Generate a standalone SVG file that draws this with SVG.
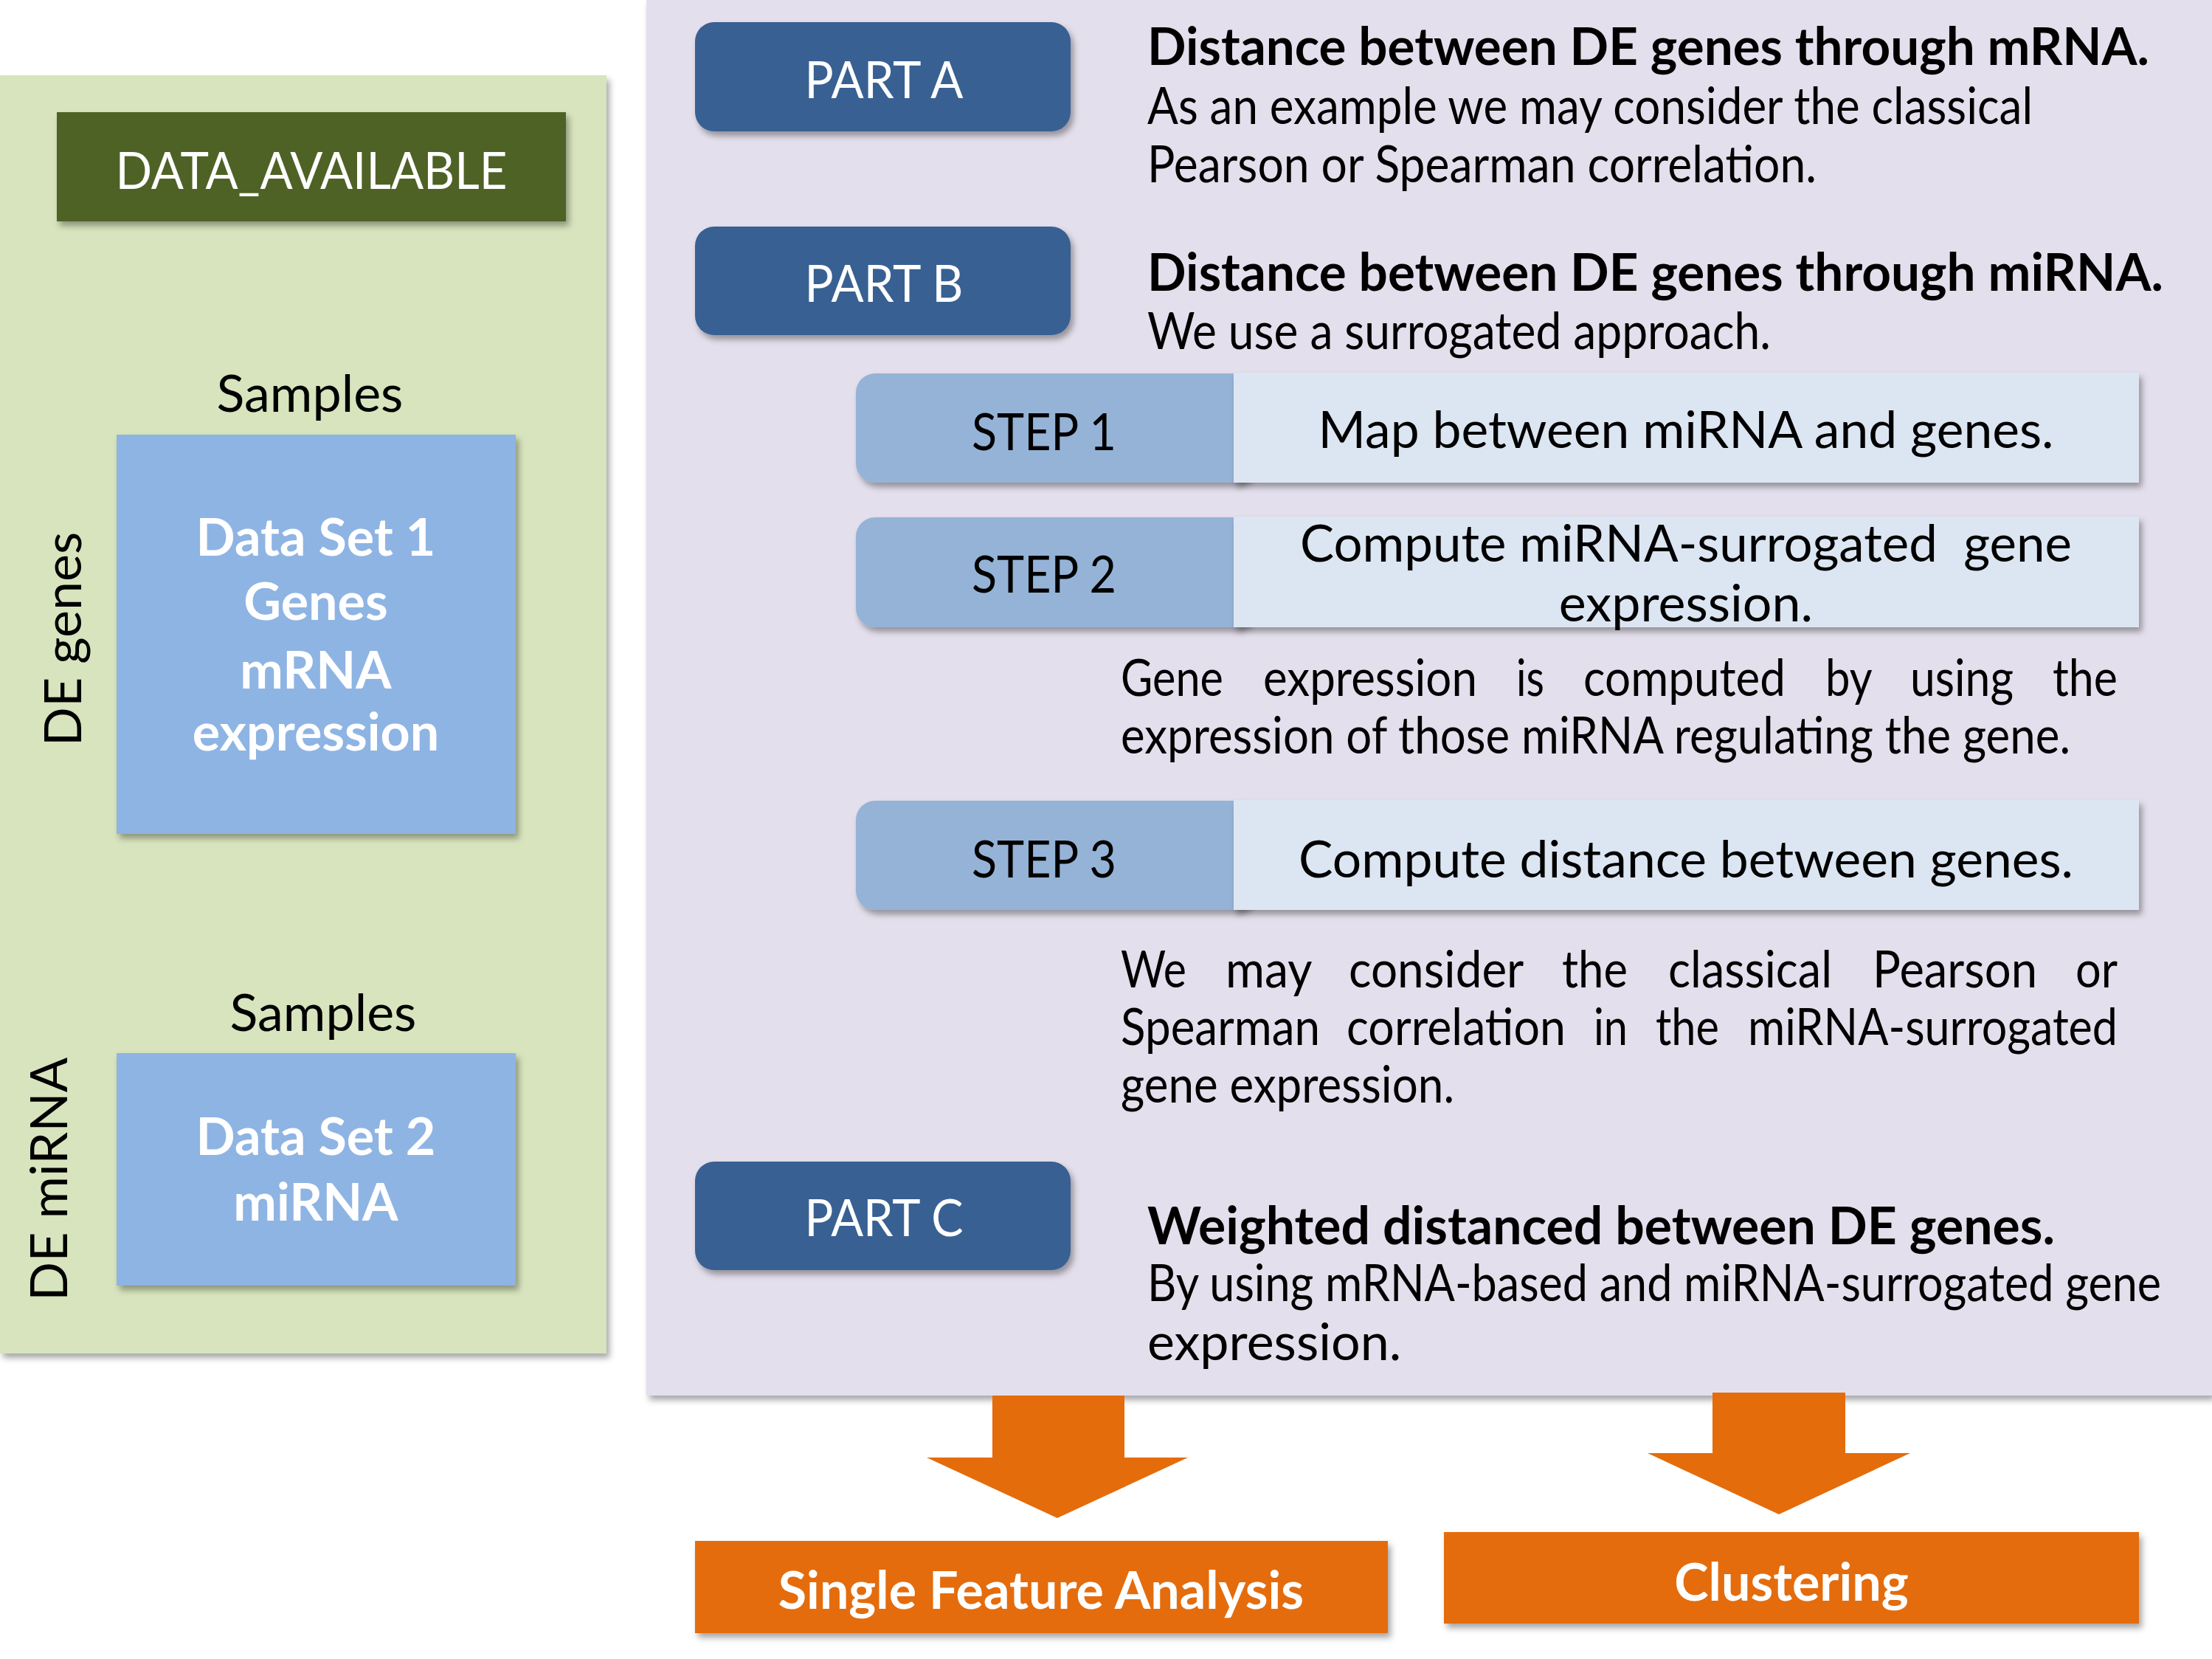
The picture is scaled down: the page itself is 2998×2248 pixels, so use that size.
<svg xmlns="http://www.w3.org/2000/svg" width="2998" height="2248" viewBox="0 0 2998 2248">
<defs>
<filter id="sh" x="-5%" y="-5%" width="115%" height="125%">
<feDropShadow dx="4" dy="6" stdDeviation="4" flood-color="#000" flood-opacity="0.35"/>
</filter>
</defs>
<style>
text{font-family:Lato,"Open Sans","Liberation Sans",sans-serif;font-size:70px;fill:#000}
tspan{lengthAdjust:spacingAndGlyphs}
.w{fill:#fff}
.b{font-weight:bold}
.c{text-anchor:middle}
.part{fill:#376092}
.step{fill:#95B3D7}
.desc{fill:#DCE6F2}
.ds{fill:#8EB4E3}
.org{fill:#E46C0A}
</style>
<rect width="2998" height="2248" fill="#fff"/>
<g id="panel_left">
<rect x="0" y="102" width="822" height="1732" fill="#D7E4BD" filter="url(#sh)"/>
</g>
<g id="panel_right">
<rect x="876" y="0" width="2122" height="1891" fill="#E4DFEC" filter="url(#sh)"/>
</g>
<g id="data_available">
<rect x="77" y="152" width="690" height="148" fill="#4F6228" filter="url(#sh)"/>
<text class="w c" x="422" y="256" textLength="531" lengthAdjust="spacingAndGlyphs">DATA_AVAILABLE</text>
</g>
<g id="samples1"><text class="c" x="420" y="558">Samples</text></g>
<g id="dataset1">
<rect class="ds" x="158" y="589" width="541" height="541" filter="url(#sh)"/>
<text class="w b c" x="428" y="753">Data Set 1</text>
<text class="w b c" x="428" y="840">Genes</text>
<text class="w b c" x="428" y="933">mRNA</text>
<text class="w b c" x="428" y="1017">expression</text>
</g>
<g id="de_genes"><text class="c" transform="translate(110,866) rotate(-90)">DE genes</text></g>
<g id="samples2"><text class="c" x="438" y="1397">Samples</text></g>
<g id="dataset2">
<rect class="ds" x="158" y="1427" width="541" height="315" filter="url(#sh)"/>
<text class="w b c" x="428" y="1565">Data Set 2</text>
<text class="w b c" x="428" y="1654">miRNA</text>
</g>
<g id="de_mirna"><text class="c" transform="translate(91,1598) rotate(-90)">DE miRNA</text></g>
<g id="part_a">
<rect class="part" x="942" y="30" width="509" height="148" rx="26" filter="url(#sh)"/>
<text class="w c" x="1198" y="133" textLength="215" lengthAdjust="spacingAndGlyphs">PART A</text>
</g>
<g id="part_a_text">
<text class="b" x="1555" y="88" textLength="1358" lengthAdjust="spacingAndGlyphs">Distance between DE genes through mRNA.</text>
<text x="1555" y="168" textLength="1200" lengthAdjust="spacingAndGlyphs">As an example we may consider the classical</text>
<text x="1555" y="247" textLength="907" lengthAdjust="spacingAndGlyphs">Pearson or Spearman correlation.</text>
</g>
<g id="part_b">
<rect class="part" x="942" y="307" width="509" height="147" rx="26" filter="url(#sh)"/>
<text class="w c" x="1198" y="409" textLength="215" lengthAdjust="spacingAndGlyphs">PART B</text>
</g>
<g id="part_b_text">
<text class="b" x="1555" y="394" textLength="1377" lengthAdjust="spacingAndGlyphs">Distance between DE genes through miRNA.</text>
<text x="1555" y="473" textLength="845" lengthAdjust="spacingAndGlyphs">We use a surrogated approach.</text>
</g>
<g id="step1">
<rect class="step" x="1160" y="506" width="540" height="148" rx="26" filter="url(#sh)"/>
<rect class="desc" x="1672" y="505" width="1227" height="149" filter="url(#sh)"/>
<text class="c" x="1415" y="610" textLength="196" lengthAdjust="spacingAndGlyphs">STEP 1</text>
<text class="c" x="2285" y="607" textLength="997" lengthAdjust="spacingAndGlyphs">Map between miRNA and genes.</text>
</g>
<g id="step2">
<rect class="step" x="1160" y="701" width="540" height="149" rx="26" filter="url(#sh)"/>
<rect class="desc" x="1672" y="700" width="1227" height="150" filter="url(#sh)"/>
<text class="c" x="1415" y="803" textLength="196" lengthAdjust="spacingAndGlyphs">STEP 2</text>
<text class="c" x="2285" y="761" textLength="1046" lengthAdjust="spacingAndGlyphs" xml:space="preserve">Compute miRNA-surrogated  gene</text>
<text class="c" x="2285" y="842">expression.</text>
</g>
<g id="step2_text">
<text y="943"><tspan x="1519" textLength="139" lengthAdjust="spacingAndGlyphs">Gene</tspan> <tspan x="1712" textLength="290" lengthAdjust="spacingAndGlyphs">expression</tspan> <tspan x="2055" textLength="38" lengthAdjust="spacingAndGlyphs">is</tspan> <tspan x="2146" textLength="274" lengthAdjust="spacingAndGlyphs">computed</tspan> <tspan x="2474" textLength="62" lengthAdjust="spacingAndGlyphs">by</tspan> <tspan x="2589" textLength="140" lengthAdjust="spacingAndGlyphs">using</tspan> <tspan x="2782" textLength="88" lengthAdjust="spacingAndGlyphs">the</tspan></text>
<text x="1519" y="1021" textLength="1287" lengthAdjust="spacingAndGlyphs">expression of those miRNA regulating the gene.</text>
</g>
<g id="step3">
<rect class="step" x="1160" y="1085" width="540" height="148" rx="26" filter="url(#sh)"/>
<rect class="desc" x="1672" y="1084" width="1227" height="149" filter="url(#sh)"/>
<text class="c" x="1415" y="1189" textLength="196" lengthAdjust="spacingAndGlyphs">STEP 3</text>
<text class="c" x="2285" y="1189" textLength="1050" lengthAdjust="spacingAndGlyphs">Compute distance between genes.</text>
</g>
<g id="step3_text">
<text y="1338"><tspan x="1519" textLength="89" lengthAdjust="spacingAndGlyphs">We</tspan> <tspan x="1661" textLength="116" lengthAdjust="spacingAndGlyphs">may</tspan> <tspan x="1828" textLength="236" lengthAdjust="spacingAndGlyphs">consider</tspan> <tspan x="2117" textLength="89" lengthAdjust="spacingAndGlyphs">the</tspan> <tspan x="2261" textLength="222" lengthAdjust="spacingAndGlyphs">classical</tspan> <tspan x="2538" textLength="223" lengthAdjust="spacingAndGlyphs">Pearson</tspan> <tspan x="2813" textLength="57" lengthAdjust="spacingAndGlyphs">or</tspan></text>
<text y="1416"><tspan x="1519" textLength="270" lengthAdjust="spacingAndGlyphs">Spearman</tspan> <tspan x="1825" textLength="297" lengthAdjust="spacingAndGlyphs">correlation</tspan> <tspan x="2160" textLength="46" lengthAdjust="spacingAndGlyphs">in</tspan> <tspan x="2244" textLength="86" lengthAdjust="spacingAndGlyphs">the</tspan> <tspan x="2369" textLength="501" lengthAdjust="spacingAndGlyphs">miRNA-surrogated</tspan></text>
<text x="1519" y="1494" textLength="452" lengthAdjust="spacingAndGlyphs">gene expression.</text>
</g>
<g id="part_c">
<rect class="part" x="942" y="1574" width="509" height="147" rx="26" filter="url(#sh)"/>
<text class="w c" x="1198" y="1675" textLength="215" lengthAdjust="spacingAndGlyphs">PART C</text>
</g>
<g id="part_c_text">
<text class="b" x="1555" y="1686" textLength="1230" lengthAdjust="spacingAndGlyphs">Weighted distanced between DE genes.</text>
<text x="1555" y="1763" textLength="1374" lengthAdjust="spacingAndGlyphs">By using mRNA-based and miRNA-surrogated gene</text>
<text x="1555" y="1843">expression.</text>
</g>
<g id="connectors">
<polygon class="org" points="1345,1891 1524,1891 1524,1975 1610,1975 1433,2057 1256,1975 1345,1975"/>
<polygon class="org" points="2321,1887 2501,1887 2501,1969 2589,1969 2411,2052 2233,1969 2321,1969"/>
</g>
<g id="single_feature">
<rect class="org" x="942" y="2088" width="939" height="125" filter="url(#sh)"/>
<text class="w b c" x="1411" y="2180">Single Feature Analysis</text>
</g>
<g id="clustering">
<rect class="org" x="1957" y="2076" width="942" height="124" filter="url(#sh)"/>
<text class="w b c" x="2428" y="2169">Clustering</text>
</g>
</svg>
